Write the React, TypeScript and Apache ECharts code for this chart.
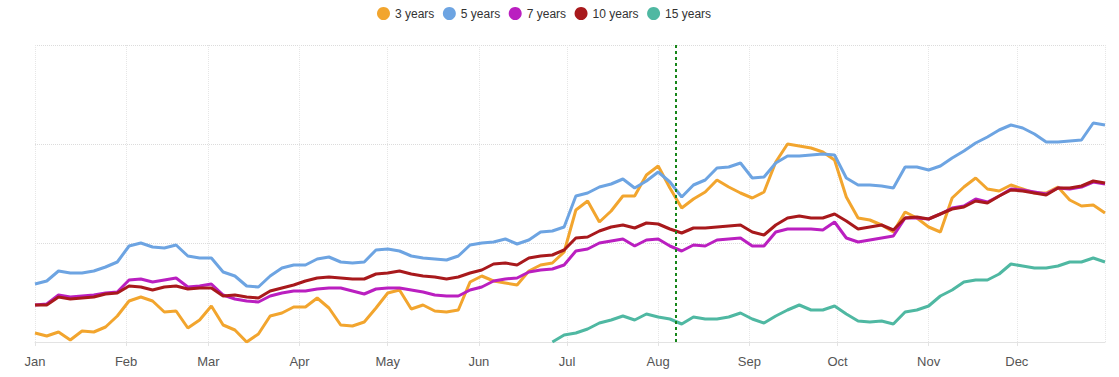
import { useEffect, useRef } from "react";
import * as echarts from "echarts";

const START_DATE = "2023-01-01";
const END_DATE = "2023-12-31";
const STEP_DAYS = 4;
const MARKER_DATE = "2023-08-07";
const FIFTEEN_START_INDEX = 44;

const seriesNames = ["3 years", "5 years", "7 years", "10 years", "15 years"];
const seriesColors = ["#F2A52E", "#6DA4E2", "#BA1FC0", "#A8191C", "#4FB8A2"];

const y3 = [9, 6, 10, 2, 11, 10, 15, 26, 41, 45, 41, 30, 31, 14, 22, 36, 17, 12, 0, 8, 26, 29, 35, 35, 44, 34, 17, 16, 20, 34, 49, 52, 33, 37, 31, 30, 32, 60, 66, 61, 59, 57, 71, 77, 79, 90, 132, 141, 120, 131, 146, 146, 167, 176, 154, 134, 143, 150, 162, 155, 149, 144, 150, 180, 198, 196, 194, 190, 182, 145, 124, 122, 117, 110, 130, 124, 115, 110, 144, 155, 164, 153, 151, 157, 153, 149, 149, 155, 142, 136, 137, 129];
const y5 = [58, 61, 71, 69, 69, 71, 75, 80, 96, 99, 95, 94, 97, 86, 84, 84, 70, 66, 56, 55, 66, 74, 77, 77, 83, 85, 80, 79, 80, 92, 93, 91, 86, 84, 83, 82, 86, 97, 99, 100, 103, 98, 102, 110, 111, 115, 146, 149, 155, 158, 163, 154, 161, 170, 160, 145, 157, 162, 174, 175, 179, 164, 165, 179, 186, 186, 187, 188, 187, 164, 157, 157, 156, 154, 175, 175, 172, 176, 184, 191, 199, 205, 212, 217, 214, 208, 200, 200, 201, 202, 219, 217];
const y7 = [37, 38, 47, 45, 46, 47, 49, 50, 62, 63, 60, 62, 64, 55, 56, 58, 47, 43, 41, 40, 46, 49, 51, 51, 53, 54, 54, 51, 48, 53, 54, 54, 52, 50, 47, 46, 46, 52, 55, 61, 63, 64, 70, 72, 73, 77, 91, 93, 99, 101, 103, 96, 102, 103, 96, 91, 97, 96, 102, 103, 104, 96, 96, 110, 113, 113, 113, 112, 120, 104, 100, 102, 104, 106, 124, 124, 123, 128, 134, 136, 143, 140, 146, 153, 152, 150, 148, 154, 153, 155, 160, 158];
const y10 = [37, 37, 45, 43, 44, 45, 48, 49, 56, 55, 52, 55, 56, 53, 54, 54, 46, 47, 45, 44, 51, 54, 57, 61, 64, 65, 64, 63, 63, 68, 69, 71, 68, 66, 65, 63, 65, 69, 72, 78, 79, 77, 84, 86, 87, 92, 104, 105, 111, 115, 117, 114, 119, 118, 113, 109, 114, 114, 115, 116, 117, 110, 107, 117, 124, 126, 124, 124, 128, 121, 113, 115, 117, 112, 124, 125, 123, 128, 133, 135, 141, 139, 146, 152, 151, 149, 147, 154, 154, 156, 161, 159];
const y15 = [0, 7, 9, 13, 19, 22, 26, 22, 28, 25, 23, 18, 25, 23, 23, 25, 29, 23, 19, 26, 32, 37, 32, 32, 36, 28, 21, 20, 21, 18, 30, 32, 36, 46, 52, 60, 62, 62, 68, 78, 76, 74, 74, 76, 80, 80, 84, 80];

const dates = y3.map((_, i) => {
  const d = new Date(START_DATE + "T00:00:00Z");
  d.setUTCDate(d.getUTCDate() + i * STEP_DAYS);
  return d.toISOString().slice(0, 10);
});

const FONT = "'Liberation Sans', Arial, sans-serif";

export default function App() {
  const ref = useRef<HTMLDivElement>(null);
  useEffect(() => {
    if (!ref.current) return;
    const chart = echarts.init(ref.current, null, { renderer: "svg" });
    const valueSets = [y3, y5, y7, y10, y15];
    const series = valueSets.map((vals, si) => {
      const offset = si === 4 ? FIFTEEN_START_INDEX : 0;
      const s: any = {
        name: seriesNames[si],
        type: "line",
        showSymbol: false,
        symbol: "none",
        data: vals.map((v, i) => [dates[offset + i], v]),
        lineStyle: { width: 3, color: seriesColors[si] },
        itemStyle: { color: seriesColors[si] },
        emphasis: { disabled: true },
      };
      if (si === 0) {
        s.markLine = {
          silent: true,
          symbol: ["none", "none"],
          label: { show: false },
          lineStyle: { color: "#17861A", type: [3, 3], width: 2 },
          data: [{ xAxis: MARKER_DATE }],
        };
      }
      return s;
    });
    chart.setOption({
      animation: false,
      textStyle: { fontFamily: FONT },
      legend: {
        top: 2,
        left: 372,
        icon: "circle",
        itemWidth: 13,
        itemHeight: 13,
        itemGap: 8.5,
        textStyle: { fontSize: 12, color: "#333", fontFamily: FONT },
        data: seriesNames,
      },
      grid: { left: 35, right: 14, top: 45, bottom: 35, containLabel: false },
      xAxis: {
        type: "time",
        min: START_DATE,
        max: END_DATE,
        splitNumber: 12,
        axisLine: { show: true, lineStyle: { color: "#e3e3e3", width: 1 } },
        axisTick: { show: true, length: 4, lineStyle: { color: "#e3e3e3" } },
        axisLabel: {
          formatter: "{MMM}",
          color: "#555",
          fontSize: 13,
          margin: 13,
          fontFamily: FONT,
          showMaxLabel: false,
        },
        splitLine: { show: true, lineStyle: { color: "#e6e6e6", type: "dotted", width: 1 } },
        minorTick: { show: false },
      },
      yAxis: {
        type: "value",
        min: 0,
        max: 297,
        interval: 99,
        axisLine: { show: false },
        axisTick: { show: false },
        axisLabel: { show: false },
        splitLine: { show: true, lineStyle: { color: "#dcdcdc", type: "dotted", width: 1 } },
      },
      series,
    });
    return () => chart.dispose();
  }, []);
  return (
    <div
      ref={ref}
      style={{ position: "absolute", left: 0, top: 0, width: 1119, height: 377, background: "#fff" }}
    />
  );
}
